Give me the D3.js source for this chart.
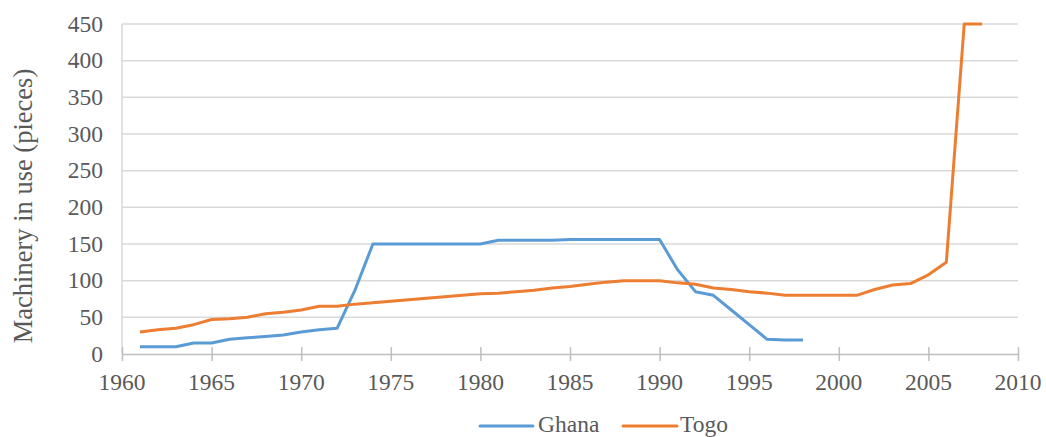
<!DOCTYPE html>
<html><head><meta charset="utf-8">
<script src="https://cdn.jsdelivr.net/npm/d3@7/dist/d3.min.js"></script>
<style>body{margin:0;background:#fff}svg{display:block}</style>
</head><body>
<svg id="c" width="1046" height="437"></svg>
<script>
const ghanaYears = d3.range(1961, 1999);
const ghanaValues = [10,10,10,15,15,20,22,24,26,30,33,35,87,150,150,150,150,150,150,150,155,155,155,155,156,156,156,156,156,156,115,85,80,60,40,20,19,19];
const togoYears = d3.range(1961, 2009);
const togoValues = [30,33,35,40,47,48,50,55,57,60,65,65,68,70,72,74,76,78,80,82,83,85,87,90,92,95,98,100,100,100,97,95,90,88,85,83,80,80,80,80,80,88,94,96,108,125,450,450];
const xTicks = [1960,1965,1970,1975,1980,1985,1990,1995,2000,2005,2010];
const yTicks = [0,50,100,150,200,250,300,350,400,450];
const seriesNames = ["Ghana","Togo"];
const colors = ["#5b9bd5","#ed7d31"];

const FONT = 'Liberation Serif, Times New Roman, serif';
const svg = d3.select("#c");
const x = d3.scaleLinear().domain([1960,2010]).range([122,1018]);
const y = d3.scaleLinear().domain([0,450]).range([354,24]);

svg.append("g").selectAll("line").data(yTicks.filter(d=>d>0)).join("line")
  .attr("x1",x(1960)).attr("x2",x(2010)).attr("y1",d=>y(d)).attr("y2",d=>y(d))
  .attr("stroke","#d9d9d9").attr("stroke-width",1.5);

svg.append("line").attr("x1",x(1960)).attr("x2",x(1960)).attr("y1",y(450)).attr("y2",y(0))
  .attr("stroke","#d9d9d9").attr("stroke-width",1.5);

const xa = svg.append("g").attr("transform",`translate(0,${y(0)})`)
  .call(d3.axisBottom(x).tickValues(xTicks).tickFormat("").tickSizeInner(7).tickSizeOuter(0));
xa.select(".domain").attr("stroke","#bfbfbf").attr("stroke-width",1.5);
xa.selectAll(".tick line").attr("stroke","#bfbfbf").attr("stroke-width",1.5).attr("y1",-7);
xa.selectAll(".tick text").remove();

svg.append("g").selectAll("text").data(xTicks).join("text")
  .attr("x",d=>x(d)).attr("y",y(0)+36).attr("text-anchor","middle")
  .style("font-family",FONT).style("font-size","23.5px").attr("fill","#595959")
  .text(d=>d3.format("d")(d));

svg.append("g").selectAll("text").data(yTicks).join("text")
  .attr("x",x(1960)-19).attr("y",d=>y(d)).attr("dy","0.32em").attr("text-anchor","end")
  .style("font-family",FONT).style("font-size","23.5px").attr("fill","#595959")
  .text(d=>d);

svg.append("text").attr("transform",`translate(32,${(67+345)/2}) rotate(-90)`)
  .attr("text-anchor","middle").style("font-family",FONT).style("font-size","26.5px").attr("fill","#595959")
  .text("Machinery in use (pieces)");

const line = d3.line().x(d=>x(d[0])).y(d=>y(d[1]));
const data = [d3.zip(ghanaYears, ghanaValues), d3.zip(togoYears, togoValues)];
svg.append("g").selectAll("path").data(data).join("path")
  .attr("d",line).attr("fill","none").attr("stroke",(d,i)=>colors[i]).attr("stroke-width",3)
  .attr("stroke-linejoin","round");

const leg = [{x0:480,x1:533,tx:538},{x0:623,x1:677,tx:680}];
seriesNames.forEach((n,i)=>{
  svg.append("line").attr("x1",leg[i].x0).attr("x2",leg[i].x1).attr("y1",426).attr("y2",426)
    .attr("stroke",colors[i]).attr("stroke-width",3).attr("stroke-linecap","round");
  svg.append("text").attr("x",leg[i].tx).attr("y",432).style("font-family",FONT).style("font-size","23.5px")
    .attr("fill","#595959").text(n);
});
</script>
</body></html>
